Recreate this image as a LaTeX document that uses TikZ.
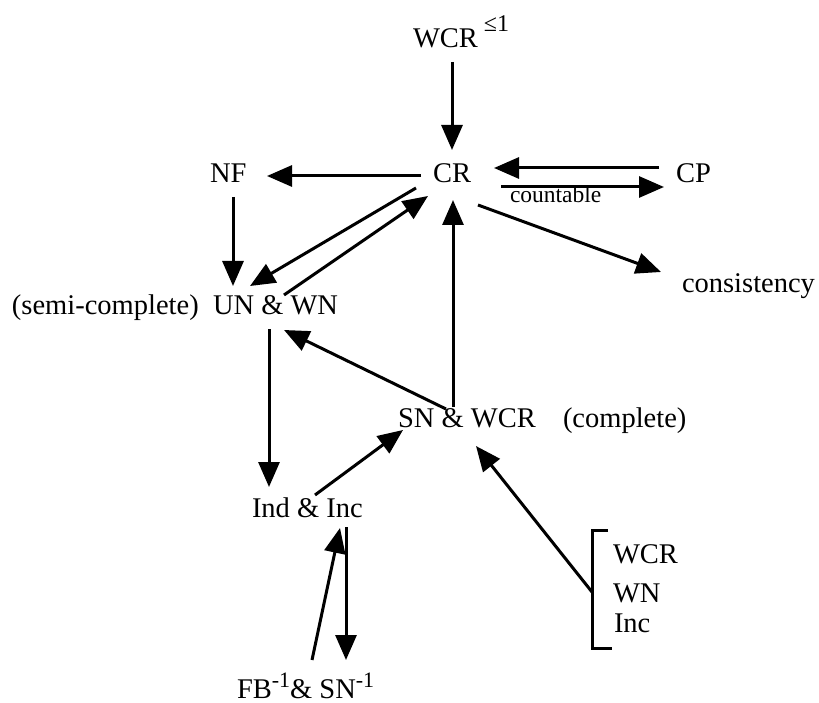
\documentclass[tikz,border=0pt]{standalone}
\usepackage{fontspec}
\setmainfont{Liberation Serif}
\usetikzlibrary{arrows.meta,calc}
\newcommand{\bigtxt}{\fontsize{28.5}{30}\selectfont}
\newcommand{\supA}[1]{\raisebox{16pt}{\fontsize{24}{24}\selectfont #1}}
\newcommand{\supB}[1]{\raisebox{11pt}{\fontsize{22}{22}\selectfont #1}}
\begin{document}
\begin{tikzpicture}[x=1pt,y=-1pt,
  lbl/.style={anchor=base west,inner sep=0pt,outer sep=0pt,font=\bigtxt},
  small/.style={anchor=base west,inner sep=0pt,outer sep=0pt,font=\fontsize{23.5}{25}\selectfont},
  arr/.style={line width=3pt,-{Triangle[length=25pt,width=21pt]}},
  brkline/.style={line width=3pt}]
\useasboundingbox (0,0) rectangle (819,703);
% nodes
\node[lbl] (WCR) at (413,48) {WCR\hspace{6pt}\supA{≤1}};
\node[lbl] (CR) at (433,183) {CR};
\node[lbl] (NF) at (210,183) {NF};
\node[lbl] (CP) at (676,183) {CP};
\node[small] (cnt) at (510,203) {countable};
\node[lbl] (cons) at (682,293) {consistency};
\node[lbl] (semi) at (12,314) {(semi-complete)};
\node[lbl] (UN) at (213,314) {UN \& WN};
\node[lbl] (SN) at (398,427) {SN \& WCR};
\node[lbl] (compl) at (563,427) {(complete)};
\node[lbl] (Ind) at (252,517) {Ind \& Inc};
\node[lbl] (FB) at (237,698) {FB\supB{-1}\& SN\supB{-1}};
\node[lbl] (bWCR) at (613,563) {WCR};
\node[lbl] (bWN) at (613,602) {WN};
\node[lbl] (bInc) at (614,632) {Inc};
% bracket
\draw[brkline,line join=miter] (608,530) -- (592,530) -- (592,648) -- (612,648);
\coordinate (brk) at (592,592);
% connectors
\draw[arr] ($(WCR.base west)+(39,14)$) -- ($(CR.base west)+(19,-33)$);
\draw[arr] ($(CR.base west)+(-12,-7)$) -- ($(NF.base west)+(57,-7)$);
\draw[arr] ($(CP.base west)+(-17,-15)$) -- ($(CR.base west)+(61,-15)$);
\draw[arr] ($(CR.base west)+(68,4)$) -- ($(CP.base west)+(-12,4)$);
\draw[arr] ($(CR.base west)+(45,22)$) -- ($(cons.base west)+(-21,-21)$);
\draw[arr] ($(NF.base west)+(23,14)$) -- ($(UN.base west)+(20,-28)$);
\draw[arr] ($(CR.base west)+(-17,5)$) -- ($(UN.base west)+(37,-28)$);
\draw[arr] ($(UN.base west)+(71,-19)$) -- ($(CR.base west)+(-5,13)$);
\draw[arr] ($(SN.base west)+(55,-20)$) -- ($(CR.base west)+(20,17)$);
\draw[arr] ($(SN.base west)+(48,-18)$) -- ($(UN.base west)+(71,16)$);
\draw[arr] ($(UN.base west)+(56,15)$) -- ($(Ind.base west)+(17,-30)$);
\draw[arr] ($(Ind.base west)+(63,-22)$) -- ($(SN.base west)+(5,3)$);
\draw[arr] ($(FB.base west)+(75,-38)$) -- ($(Ind.base west)+(88,11)$);
\draw[arr] ($(Ind.base west)+(94,10)$) -- ($(FB.base west)+(109,-38)$);
\draw[arr] (brk) -- ($(SN.base west)+(78,19)$);
\end{tikzpicture}
\end{document}
